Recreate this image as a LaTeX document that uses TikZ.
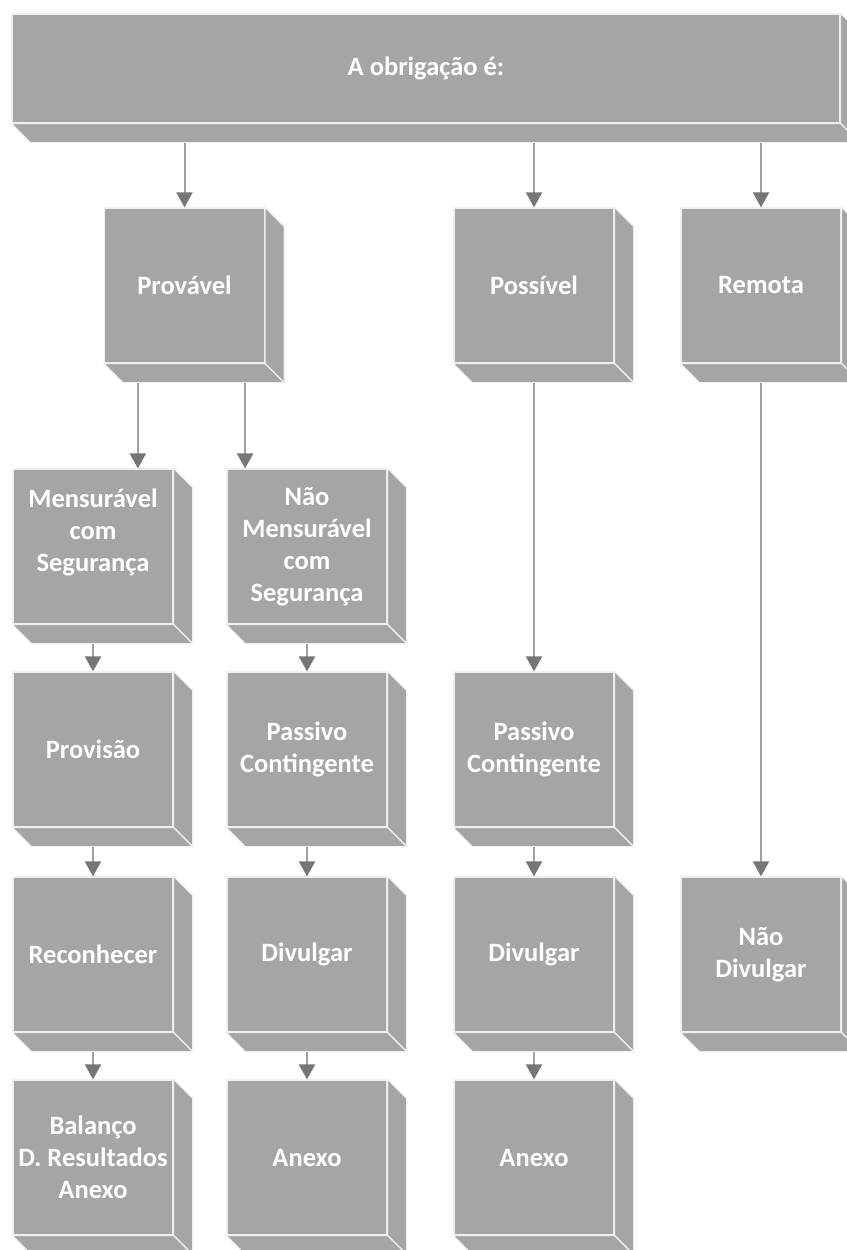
\documentclass[tikz,border=0pt]{standalone}
\usepackage{fontspec}
\setmainfont{Carlito}
\usetikzlibrary{arrows.meta,backgrounds}
\definecolor{boxfill}{HTML}{A5A5A5}
\definecolor{boxedge}{HTML}{EFEFEF}
\definecolor{arrline}{HTML}{A0A0A0}
\definecolor{arrhead}{HTML}{767676}
\begin{document}
\begin{tikzpicture}[x=1pt,y=-1pt,
  front/.style={draw=boxedge, line width=1.2pt, fill=boxfill, minimum width=160pt, minimum height=155pt,
    inner sep=0pt, align=center, text=white, font=\fontsize{26.5}{32}\selectfont\bfseries},
  face/.style={draw=boxedge, line width=1.2pt, fill=boxfill, line join=miter},
  arr/.style={draw=arrline, line width=2pt, -{Triangle[length=15pt,width=16pt,color=arrhead]}}]
\useasboundingbox (0,0) rectangle (846,1250);

% nodes
\node[front, minimum width=828pt, minimum height=109pt] (top) at (426,68.5) {A obrigação é:};
\node[front] (prov) at (184.5,285.5) {Provável};
\node[front] (poss) at (534,285.5) {Possível};
\node[front] (rem) at (761,285.5) {Remota};

\node[front] (mens) at (93,546.5) {Mensurável\\com\\Segurança\\\mbox{}};
\node[front] (nmens) at (307,546.5) {Não\\Mensurável\\com\\Segurança};

\node[front] (provis) at (93,749.5) {Provisão};
\node[front] (pc1) at (307,749.5) {Passivo\\Contingente};
\node[front] (pc2) at (534,749.5) {Passivo\\Contingente};

\node[front] (recon) at (93,954.5) {Reconhecer};
\node[front] (div1) at (307,954.5) {Divulgar};
\node[front] (div2) at (534,954.5) {Divulgar};
\node[front] (ndiv) at (761,954.5) {Não\\Divulgar};

\node[front] (bal) at (93,1157.5) {Balanço\\D. Resultados\\Anexo};
\node[front] (anx1) at (307,1157.5) {Anexo};
\node[front] (anx2) at (534,1157.5) {Anexo};

% 3D faces
\begin{scope}[on background layer]
\fill[white] (0,0) rectangle (846,1250);
\foreach \n in {top,prov,poss,rem,mens,nmens,provis,pc1,pc2,recon,div1,div2,ndiv,bal,anx1,anx2} {
  \filldraw[face] (\n.north east) -- ++(19,19) -- ([shift={(19,19)}]\n.south east) -- (\n.south east) -- cycle;
  \filldraw[face] (\n.south west) -- (\n.south east) -- ([shift={(19,19)}]\n.south east) -- ([shift={(19,19)}]\n.south west) -- cycle;
}
\end{scope}

% connectors
\draw[arr] (prov.north |- top.south) ++(0,19) -- (prov.north);
\draw[arr] (poss.north |- top.south) ++(0,19) -- (poss.north);
\draw[arr] (rem.north |- top.south) ++(0,19) -- (rem.north);

\draw[arr] (prov.south west) ++(34,19) coordinate (pa) -- (pa |- mens.north);
\draw[arr] (prov.south east) ++(-20,19) coordinate (pb) -- (pb |- nmens.north);
\draw[arr] (poss.south) ++(0,19) -- (pc2.north);
\draw[arr] (rem.south) ++(0,19) -- (ndiv.north);

\draw[arr] (mens.south) ++(0,19) -- (provis.north);
\draw[arr] (provis.south) ++(0,19) -- (recon.north);
\draw[arr] (recon.south) ++(0,19) -- (bal.north);

\draw[arr] (nmens.south) ++(0,19) -- (pc1.north);
\draw[arr] (pc1.south) ++(0,19) -- (div1.north);
\draw[arr] (div1.south) ++(0,19) -- (anx1.north);

\draw[arr] (pc2.south) ++(0,19) -- (div2.north);
\draw[arr] (div2.south) ++(0,19) -- (anx2.north);
\end{tikzpicture}
\end{document}
